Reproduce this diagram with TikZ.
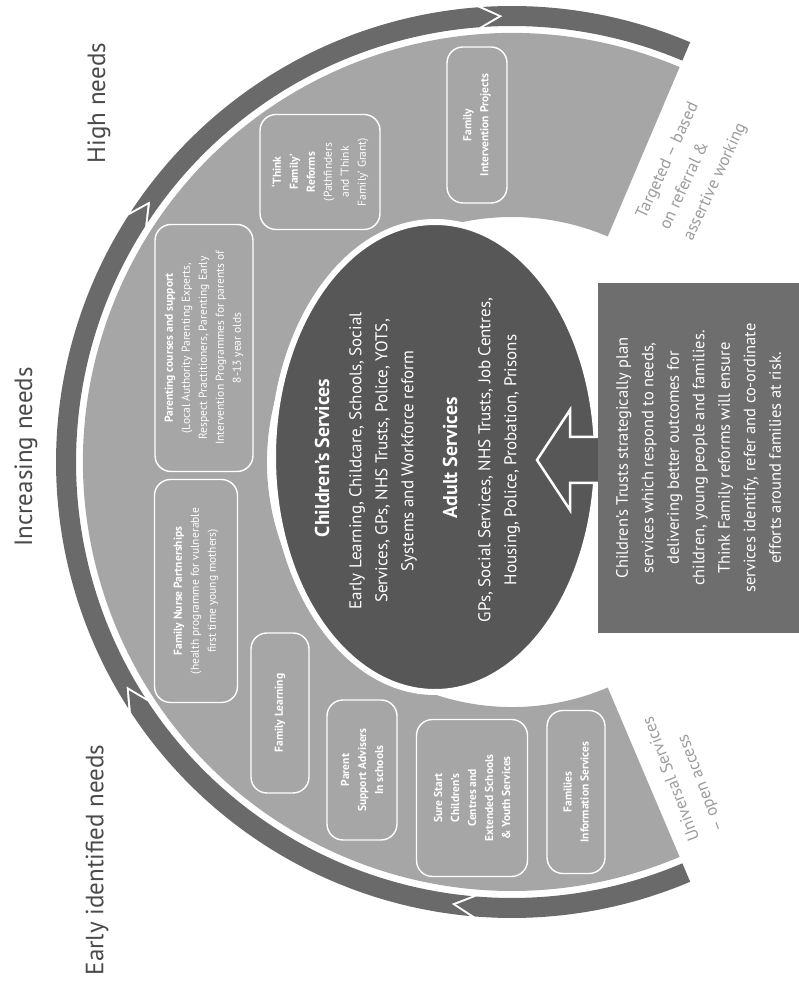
\documentclass[tikz,border=0pt]{standalone}
\usepackage{fontspec}
\setmainfont{PT Sans}
\usetikzlibrary{calc}

\definecolor{bandDark}{HTML}{6A6A6A}
\definecolor{bandLight}{HTML}{A6A6A6}
\definecolor{coreGrey}{HTML}{575757}
\definecolor{trustGrey}{HTML}{6E6E6E}
\definecolor{labelGrey}{HTML}{4A4A4A}
\definecolor{noteGrey}{HTML}{9C9C9C}

\begin{document}
\begin{tikzpicture}[x=1pt, y=1pt,
  service/.style={draw=white, line width=1.4pt, rounded corners=16pt, text=white,
    align=center, rotate=90, inner sep=2pt, font=\fontsize{11.5}{17}\selectfont\bfseries},
  coretext/.style={text=white, align=center, rotate=90, inner sep=0pt,
    font=\fontsize{17}{26}\selectfont},
  corehead/.style={text=white, rotate=90, inner sep=0pt, font=\fontsize{20}{26}\selectfont\bfseries},
  needs/.style={text=labelGrey, rotate=90, inner sep=0pt, font=\fontsize{25}{30}\selectfont},
  access/.style={text=noteGrey, align=left, inner sep=0pt, font=\fontsize{17}{26}\selectfont},
  trust/.style={fill=trustGrey, text=white, align=center, rotate=90, inner sep=0pt,
    font=\fontsize{16.5}{25.5}\selectfont}
    ]
  \useasboundingbox (0,0) rectangle (799,1004);
  \coordinate (c) at (512,542);

  % light band and chevron band
  \begin{scope}[shift={(c)}]
    \fill[bandLight] (67:429) arc[start angle=67, end angle=293, radius=429]
      -- (293:245) arc[start angle=293, end angle=67, radius=245] -- cycle;
    \foreach \sa/\ea/\sn/\et in {293/265.3/293/262.8, 264.7/213.3/262.2/210.8,
        212.7/147.3/210.2/144.8, 146.7/94.3/144.2/91.8, 93.7/67/91.2/67}
      \fill[bandDark] (\sa:456) arc[start angle=\sa, end angle=\ea, radius=456]
        -- (\et:446) -- (\ea:436) arc[start angle=\ea, end angle=\sa, radius=436]
        -- (\sn:446) -- cycle;
  \end{scope}

  % core ellipse
  \draw[white, line width=6pt, fill=coreGrey] (435,547) ellipse[x radius=162, y radius=235];
  \node[corehead] (kidshead) at (322,546) {Children’s Services};
  \node[coretext] (kidstext) at (383,543) {Early Learning, Childcare, Schools, Social\\
    Services, GPs, NHS Trusts, Police, YOTS,\\ Systems and Workforce reform};
  \node[corehead] (adulthead) at (450,546) {Adult Services};
  \node[coretext] (adulttext) at (499,544) {GPs, Social Services, NHS Trusts, Job Centres,\\
    Housing, Police, Probation, Prisons};

  % block arrow into the core
  \draw[white, line width=2.5pt, fill=coreGrey] (537,544) -- (570,594) -- (570,567)
    -- (606,567) -- (606,521) -- (570,521) -- (570,494) -- cycle;
  \node[trust, minimum width=350pt, minimum height=202pt] (trusts) at (698.5,546)
    {Children’s Trusts strategically plan\\ services which respond to needs,\\
     delivering better outcomes for\\ children, young people and families.\\
     Think Family reforms will ensure\\ services identify, refer and co-ordinate\\
     efforts around families at risk.};

  % services in the band
  \node[service, minimum width=156pt, minimum height=60pt] (fip) at (477,879)
    {Family\\ Intervention Projects};
  \node[service, minimum width=115pt, minimum height=120pt] (think) at (320,832)
    {‘Think\\ Family’\\ Reforms\\ \mdseries(Pathfinders\\ \mdseries and ‘Think\\ \mdseries Family’ Grant)};
  \node[service, minimum width=247pt, minimum height=98pt] (parenting) at (204,656)
    {Parenting courses and support\\ \mdseries(Local Authority Parenting Experts,\\
     \mdseries Respect Practitioners, Parenting Early\\
     \mdseries Intervention Programmes for parents of\\ \mdseries 8-13 year olds};
  \node[service, minimum width=223pt, minimum height=83pt] (nurse) at (196,413)
    {Family Nurse Partnerships\\ \mdseries(health programme for vulnerable\\
     \mdseries first time young mothers)};
  \node[service, minimum width=160pt, minimum height=58pt] (learning) at (280,291)
    {Family Learning};
  \node[service, minimum width=140pt, minimum height=70pt] (advisers) at (362,234)
    {Parent\\ Support Advisers\\ In schools};
  \node[service, minimum width=157pt, minimum height=111pt] (surestart) at (472,206)
    {Sure Start\\ Children’s\\ Centres and\\ Extended Schools\\ \& Youth Services};
  \node[service, minimum width=163pt, minimum height=58pt] (fis) at (576,212)
    {Families\\ Information Services};

  % needs labels
  \node[needs] (early) at (97,144) {Early identified needs};
  \node[needs] (increasing) at (26,547) {Increasing needs};
  \node[needs] (high) at (99,901) {High needs};
  \node[access, rotate=111] (universal) at (684,230) {Universal Services\\ – open access};
  \node[access, rotate=65] (targeted) at (692,833) {Targeted – based\\ on referral \&\\ assertive working};
\end{tikzpicture}
\end{document}
